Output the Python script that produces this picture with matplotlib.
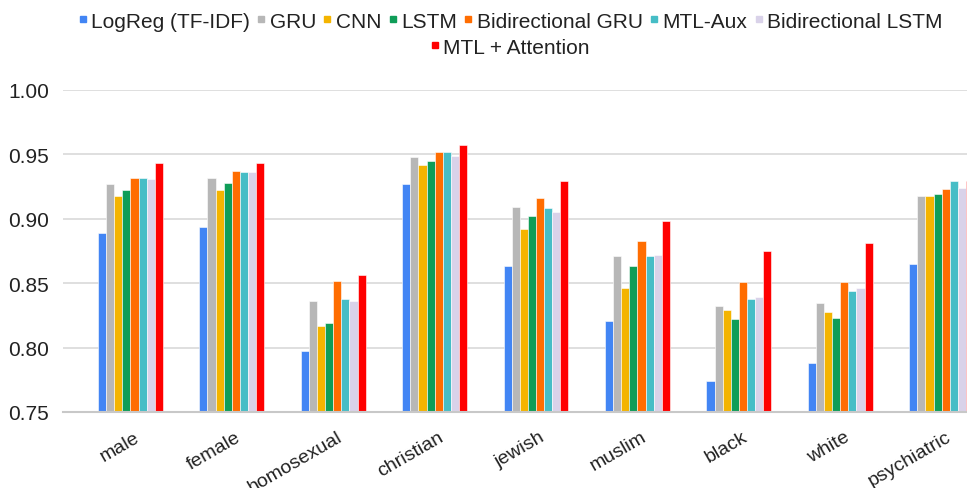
import matplotlib.pyplot as plt
import matplotlib.transforms as mtrans
from matplotlib.lines import Line2D
import numpy as np

plt.rcParams['font.family'] = ['Liberation Sans', 'DejaVu Sans']

groups = ['male', 'female', 'homosexual', 'christian', 'jewish',
          'muslim', 'black', 'white', 'psychiatric']
models = ['LogReg (TF-IDF)', 'GRU', 'CNN', 'LSTM', 'Bidirectional GRU',
          'MTL-Aux', 'Bidirectional LSTM', 'MTL + Attention']
colors = ['#4285F4', '#B7B7B7', '#F4B400', '#0F9D58', '#FF6D01',
          '#46BDC6', '#D9D2E9', '#FF0000']

logreg = [0.889, 0.894, 0.797, 0.927, 0.863, 0.821, 0.774, 0.788, 0.865]
gru = [0.927, 0.932, 0.836, 0.948, 0.909, 0.871, 0.832, 0.835, 0.918]
cnn = [0.918, 0.922, 0.817, 0.942, 0.892, 0.846, 0.829, 0.828, 0.918]
lstm = [0.922, 0.928, 0.819, 0.945, 0.902, 0.863, 0.822, 0.823, 0.919]
bigru = [0.932, 0.937, 0.852, 0.952, 0.916, 0.883, 0.851, 0.851, 0.923]
mtl_aux = [0.932, 0.936, 0.838, 0.952, 0.908, 0.871, 0.838, 0.844, 0.929]
bilstm = [0.931, 0.936, 0.836, 0.949, 0.905, 0.872, 0.839, 0.846, 0.924]
mtl_att = [0.943, 0.943, 0.856, 0.957, 0.929, 0.898, 0.875, 0.881, 0.929]
series = [logreg, gru, cnn, lstm, bigru, mtl_aux, bilstm, mtl_att]

W, H = 967, 489
fig = plt.figure(figsize=(W / 100, H / 100), dpi=100)
ax = fig.add_axes([63 / W, (H - 413) / H, (W - 63) / W, (413 - 91) / H])

x = np.arange(len(groups))
bw = 0.08
for i, (vals, c, name) in enumerate(zip(series, colors, models)):
    ax.bar(x + (i - 3.5) * bw, vals, bw, color=c, label=name,
           edgecolor='white', linewidth=0.4, zorder=2)

ax.set_ylim(0.75, 1.0)
ax.set_xlim(-0.665, 8.25)
ax.set_yticks([0.75, 0.80, 0.85, 0.90, 0.95, 1.00])
ax.set_yticklabels(['%.2f' % v for v in ax.get_yticks()], fontsize=15, color='#222222')
ax.grid(axis='y', color='#d9d9d9', linewidth=1.2, zorder=0)
ax.tick_params(axis='y', length=0, pad=10)
ax.tick_params(axis='x', length=0)
for s in ['top', 'right', 'left']:
    ax.spines[s].set_visible(False)
ax.spines['bottom'].set_color('#c8c8c8')
ax.spines['bottom'].set_linewidth(1.5)

# rotated category labels, right end just past the group centre
ax.set_xticks(x)
ax.set_xticklabels([])
off = mtrans.ScaledTranslation(12 / 100, -16 / 100, fig.dpi_scale_trans)
for xi, g in zip(x, groups):
    ax.text(xi, 0.75, g, rotation=30, ha='right', va='top', fontsize=14,
            color='#222222', transform=ax.transData + off)

# legend: small square markers, last entry centred on a second row
handles = [Line2D([], [], marker='s', linestyle='', color=c, markersize=4.5)
           for c in colors]
leg_kw = dict(frameon=False, fontsize=15, handlelength=0.3,
              handletextpad=0.25, columnspacing=0.4, borderpad=0, labelcolor='#222222')
fig.legend(handles[:7], models[:7], ncol=7, loc='center',
           bbox_to_anchor=(511 / W, 1 - 22 / H), **leg_kw)
fig.legend(handles[7:], models[7:], ncol=1, loc='center',
           bbox_to_anchor=(511 / W, 1 - 48 / H), **leg_kw)

fig.savefig('out.png', dpi=100)
